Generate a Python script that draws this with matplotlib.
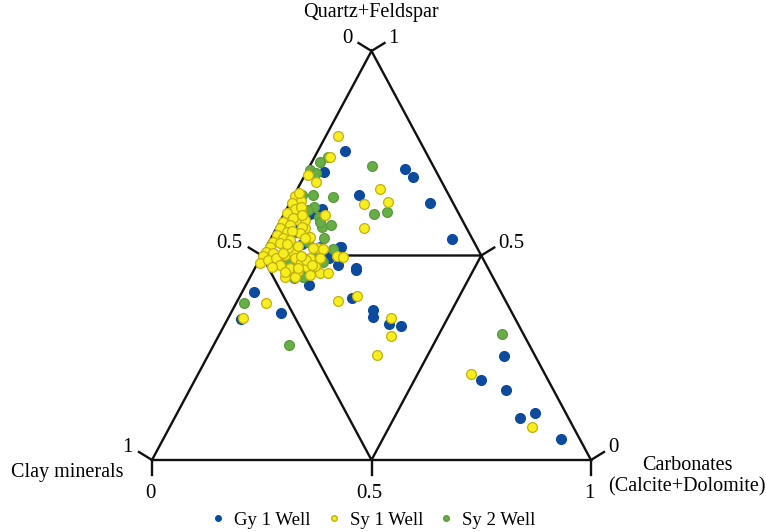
"""
Ternary plot: Quartz+Feldspar / Carbonates / Clay minerals for three wells
"""
import numpy as np
import matplotlib
matplotlib.use("Agg")
import matplotlib.pyplot as plt
from matplotlib.lines import Line2D

plt.rcParams["font.family"] = ["Liberation Serif", "DejaVu Serif"]

# ── Daten (Anteile in %) ─────────────────────────────────────────────────────
# quartz = Quartz+Feldspar, carb = Carbonates, clay = 100 - quartz - carb
gy1_quartz = [75.5, 70.3, 71.1, 69.1, 64.9, 62.8, 54.1, 61.3, 60.1, 52.1,
              47.0, 47.7, 49.6, 42.9, 41.1, 39.7, 36.7, 35.0, 33.3, 32.8,
              34.5, 36.0, 45.3, 46.5, 25.5, 19.5, 17.2, 10.2, 11.6, 5.1,
              55.8, 52.2, 52.0, 49.3, 56.2, 52.8, 50.1, 47.4]
gy1_carb   = [6.3, 4.0, 22.0, 25.0, 14.6, 31.9, 41.2, 8.1, 6.0, 17.1,
              22.9, 18.6, 15.0, 14.4, 2.7, 25.8, 32.1, 32.8, 37.3, 40.4,
              3.0, 11.4, 11.9, 23.3, 67.5, 65.2, 72.0, 78.8, 81.4, 90.7,
              5.1, 12.2, 16.8, 15.6, 4.5, 7.7, 5.2, 13.0]

sy2_quartz = [72.8, 74.0, 70.9, 70.1, 72.0, 64.8, 64.4, 60.1, 60.7, 61.9,
              59.5, 56.9, 51.7, 54.2, 30.7, 38.3, 28.2, 44.5, 44.7, 64.8,
              61.1, 57.5, 53.4, 50.5, 47.3, 48.5, 58.1, 48.4, 48.4]
sy2_carb   = [1.9, 3.0, 0.5, 2.4, 14.0, 4.3, 9.0, 20.6, 23.1, 6.0,
              8.2, 10.3, 15.4, 12.1, 64.3, 1.8, 17.2, 10.2, 12.1, 1.7,
              5.0, 12.1, 8.9, 12.2, 8.1, 14.7, 9.2, 10.7, 6.6]

sy1_quartz = [79.2, 74.2, 69.7, 67.9, 66.3, 63.2, 62.5, 56.8, 38.5, 34.7,
              38.9, 40.2, 34.8, 30.4, 25.7, 21.1, 8.1, 45.8, 45.8, 45.8,
              49.9, 49.6, 59.9, 61.1, 58.7, 56.7, 54.6, 51.8, 51.5, 64.5,
              63.3, 62.8, 61.3, 60.3, 59.1, 58.3, 57.5, 56.7, 55.8, 55.0,
              54.2, 53.4, 53.0, 52.2, 50.9, 50.5, 49.9, 48.2, 48.9, 49.3,
              47.7, 47.3, 50.1, 50.9, 51.8, 52.3, 49.3, 48.5, 49.3, 47.3,
              47.4, 49.3, 46.9, 46.1, 45.2, 44.8, 65.2, 61.9, 58.7, 57.0,
              55.4, 54.2, 51.8, 48.9, 47.7, 44.8, 50.5, 46.0, 60.0, 56.0,
              53.8, 52.8, 50.0, 47.0]
sy1_carb   = [2.7, 3.4, 0.7, 3.5, 18.8, 22.2, 17.1, 19.9, 6.8, 3.4,
              22.9, 26.5, 37.0, 39.2, 38.4, 62.1, 82.6, 13.3, 15.4, 17.3,
              17.2, 18.8, 9.5, 3.5, 4.0, 6.6, 8.7, 12.0, 13.2, 0.3,
              2.2, 0.5, 2.0, 0.5, 2.6, 0.8, 2.7, 0.9, 2.8, 0.9,
              2.8, 0.9, 2.7, 0.8, 0.6, 2.3, 0.3, 0.5, 2.0, 3.7,
              5.4, 3.7, 5.2, 6.7, 5.1, 7.1, 7.9, 9.8, 11.3, 11.6,
              13.4, 13.6, 7.9, 10.3, 13.4, 7.9, 0.8, 2.9, 5.5, 5.6,
              5.9, 7.8, 10.8, 10.7, 12.6, 10.2, 4.6, 7.3, 4.2, 4.0,
              4.5, 4.3, 9.0, 9.8]

wells  = ["Gy 1 Well", "Sy 1 Well", "Sy 2 Well"]
colors = {"Gy 1 Well": ("#0b4a9c", "#0b4a9c"),
          "Sy 1 Well": ("#f7ee1f", "#c2b012"),
          "Sy 2 Well": ("#68ae46", "#5a9a3c")}


def tern(q, c):
    """Quartz/Carbonat-Anteil (%) -> kartesische Koordinaten im Dreieck."""
    q = np.asarray(q, dtype=float) / 100.
    c = np.asarray(c, dtype=float) / 100.
    return c + q / 2., q


# ── Plot ─────────────────────────────────────────────────────────────────────
W, H = 766, 532
fig = plt.figure(figsize=(W / 100, H / 100), dpi=100)
ax = fig.add_axes([152 / W, 72 / H, 439 / W, 409 / H])
ax.set_xlim(0, 1)
ax.set_ylim(0, 1)
ax.axis("off")

lw = 1.7
# Aussendreieck + inneres Dreieck
ox, oy = tern([0, 0, 100, 0], [0, 100, 0, 0])
ax.plot(ox, oy, color="#111111", lw=lw, clip_on=False, solid_joinstyle="miter")
ix, iy = tern([50, 50, 0, 50], [0, 50, 50, 0])
ax.plot(ix, iy, color="#111111", lw=lw, clip_on=False)

# Ticks: Clay (linke Kante), Quartz (rechte Kante), Carbonat (unten)
dl = (-13 / 439, 8 / 409)
dr = (13 / 439, 8 / 409)
db = (0, -15 / 409)
tick_vals = [0, 50, 100]
tick_txt = ["0", "0.5", "1"]

for v, s in zip(tick_vals, tick_txt):
    # Clay: entlang linker Kante, clay = v -> quartz = 100 - v
    x0, y0 = tern(100 - v, 0)
    ax.plot([x0, x0 + dl[0]], [y0, y0 + dl[1]], color="#111111", lw=lw, clip_on=False)
    ax.annotate(s, (x0 + dl[0], y0 + dl[1]), xytext=(-6, 4), textcoords="offset pixels",
                ha="right", va="center", fontsize=15, annotation_clip=False)
    # Quartz: rechte Kante, carb = 100 - v
    x0, y0 = tern(v, 100 - v)
    ax.plot([x0, x0 + dr[0]], [y0, y0 + dr[1]], color="#111111", lw=lw, clip_on=False)
    ax.annotate(s, (x0 + dr[0], y0 + dr[1]), xytext=(4, 4), textcoords="offset pixels",
                ha="left", va="center", fontsize=15, annotation_clip=False)
    # Carbonat: untere Kante
    x0, y0 = tern(0, v)
    ax.plot([x0, x0 + db[0]], [y0, y0 + db[1]], color="#111111", lw=lw, clip_on=False)
    ax.annotate(s, (x0 + db[0], y0 + db[1]), xytext=(-2, -19), textcoords="offset pixels",
                ha="center", va="center", fontsize=15, annotation_clip=False)

# Punkte
series = {"Gy 1 Well": (gy1_quartz, gy1_carb),
          "Sy 2 Well": (sy2_quartz, sy2_carb),
          "Sy 1 Well": (sy1_quartz, sy1_carb)}
for name, (q, c) in series.items():
    px, py = tern(q, c)
    fc, ec = colors[name]
    ax.scatter(px, py, s=50, color=fc, edgecolors=ec, linewidths=0.9,
               clip_on=False, zorder=3)

# Achsentitel
fig.text(371 / W, 1 - 13 / H, "Quartz+Feldspar", ha="center", va="center", fontsize=14.5)
fig.text(67 / W, 1 - 472 / H, "Clay minerals", ha="center", va="center", fontsize=14.5)
fig.text(687 / W, 1 - 465 / H, "Carbonates", ha="center", va="center", fontsize=14.5)
fig.text(687 / W, 1 - 487 / H, "(Calcite+Dolomite)", ha="center", va="center", fontsize=14.5)

# Legende
handles = [Line2D([], [], ls="none", marker="o", markersize=4,
                  markerfacecolor=colors[w][0], markeredgecolor=colors[w][1])
           for w in wells]
fig.legend(handles, wells, loc="center", bbox_to_anchor=(374 / W, 1 - 520 / H),
           ncol=3, frameon=False, fontsize=13.5, handlelength=0.6,
           handletextpad=0.55, columnspacing=0.95, borderaxespad=0, borderpad=0)

fig.savefig("out.png", dpi=100)
plt.close(fig)
